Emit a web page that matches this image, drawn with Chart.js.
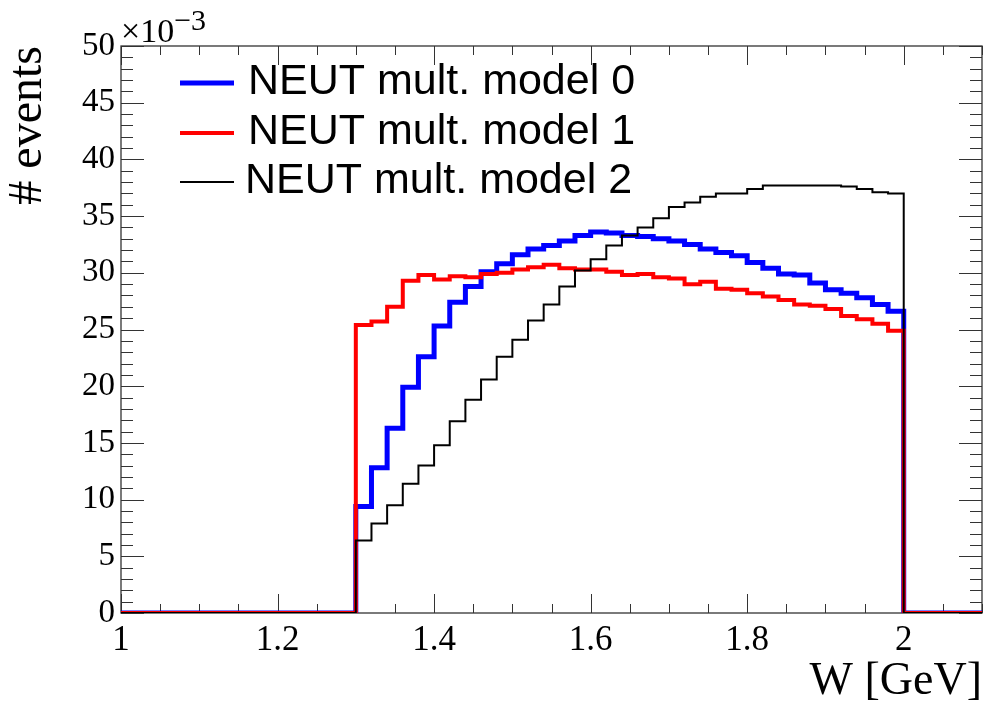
<!DOCTYPE html>
<html>
<head>
<meta charset="utf-8">
<script src="https://cdn.jsdelivr.net/npm/chart.js@4/dist/chart.umd.min.js"></script>
<style>
  body { margin: 0; background: #fff; }
  canvas { display: block; }
</style>
</head>
<body>
<canvas id="w-dist" width="983" height="707"></canvas>
<script>
// W distribution, 55 bins of 0.02 GeV from 1.0 to 2.1, values in units of 1e-3
var binLow = 1.0;
var binWidth = 0.02;
var nBins = 55;

var labels = ['NEUT mult. model 0', 'NEUT mult. model 1', 'NEUT mult. model 2'];

var model0 = [
  0, 0, 0, 0, 0, 0, 0, 0, 0, 0, 0, 0, 0, 0, 0,
  9.4, 12.8, 16.3, 19.9, 22.6, 25.3, 27.4, 28.8, 30.1, 30.8,
  31.6, 32.1, 32.4, 32.8, 33.3, 33.6, 33.5, 33.3, 33.2, 33.0,
  32.8, 32.5, 32.1, 31.8, 31.5, 30.9, 30.4, 29.9, 29.8, 29.1,
  28.5, 28.2, 27.8, 27.2, 26.6,
  0, 0, 0, 0, 0
];
var model1 = [
  0, 0, 0, 0, 0, 0, 0, 0, 0, 0, 0, 0, 0, 0, 0,
  25.4, 25.7, 27.0, 29.3, 29.8, 29.4, 29.7, 29.6, 29.9, 30.0,
  30.3, 30.5, 30.7, 30.4, 30.3, 30.3, 30.1, 29.8, 29.9, 29.6,
  29.5, 29.0, 29.2, 28.6, 28.5, 28.2, 27.9, 27.6, 27.2, 27.1,
  26.8, 26.2, 25.9, 25.5, 24.9,
  0, 0, 0, 0, 0
];
var model2 = [
  0, 0, 0, 0, 0, 0, 0, 0, 0, 0, 0, 0, 0, 0, 0,
  6.4, 7.9, 9.5, 11.4, 13.0, 14.8, 16.9, 18.8, 20.6, 22.6,
  24.1, 25.8, 27.2, 28.8, 30.2, 31.2, 32.4, 33.3, 34.0, 34.8,
  35.8, 36.2, 36.7, 37.0, 37.0, 37.4, 37.7, 37.7, 37.7, 37.7,
  37.7, 37.6, 37.4, 37.1, 37.0,
  0, 0, 0, 0, 0
];

var xTicks = [1, 1.2, 1.4, 1.6, 1.8, 2];
var yTicks = [0, 5, 10, 15, 20, 25, 30, 35, 40, 45, 50];

// stepped line points: one per bin low edge, plus closing point at last edge
function histPoints(vals) {
  var pts = vals.map(function (v, i) {
    return { x: +(binLow + binWidth * i).toFixed(2), y: v };
  });
  pts.push({ x: +(binLow + binWidth * nBins).toFixed(2), y: vals[vals.length - 1] });
  return pts;
}

var serif = 'Liberation Serif';
var sans = 'Liberation Sans';

// ROOT-like frame with ticks on all four sides, pointing inward
var frameTicks = {
  id: 'frameTicks',
  beforeDatasetsDraw: function (chart) {
    var ctx = chart.ctx, a = chart.chartArea;
    var x = chart.scales.x, y = chart.scales.y;
    ctx.save();
    ctx.strokeStyle = '#333';
    ctx.lineWidth = 1;
    ctx.beginPath();
    for (var i = 0; i <= 22; i++) {
      var v = 1 + 0.05 * i;
      var major = Math.abs(v * 5 - Math.round(v * 5)) < 1e-6;
      var len = major ? 19 : 9;
      var px = Math.round(x.getPixelForValue(v)) + 0.5;
      ctx.moveTo(px, a.bottom); ctx.lineTo(px, a.bottom - len);
      ctx.moveTo(px, a.top); ctx.lineTo(px, a.top + len);
    }
    for (var j = 0; j <= 50; j++) {
      var l = j % 5 === 0 ? 23 : 12;
      var py = Math.round(y.getPixelForValue(j)) + 0.5;
      ctx.moveTo(a.left, py); ctx.lineTo(a.left + l, py);
      ctx.moveTo(a.right, py); ctx.lineTo(a.right - l, py);
    }
    ctx.stroke();
    ctx.lineWidth = 1.3;
    ctx.strokeRect(a.left, a.top, a.right - a.left, a.bottom - a.top);
    ctx.restore();
  },
  afterDraw: function (chart) {
    var ctx = chart.ctx, a = chart.chartArea;
    ctx.save();
    ctx.fillStyle = '#000';
    ctx.textBaseline = 'alphabetic';
    ctx.font = '34px "' + serif + '"';
    ctx.fillText('\u00d710', a.left, a.top - 4);
    var w = ctx.measureText('\u00d710').width;
    ctx.font = '30px "' + serif + '"';
    ctx.fillText('\u22123', a.left + w, a.top - 16);

    // legend
    var rows = [
      { y: 83, lx: 248 },
      { y: 133, lx: 248 },
      { y: 182, lx: 245 }
    ];
    ctx.font = '43px "' + sans + '"';
    ctx.textBaseline = 'middle';
    chart.data.datasets.forEach(function (ds, k) {
      var r = rows[k];
      ctx.strokeStyle = ds.borderColor;
      ctx.lineWidth = ds.borderWidth;
      ctx.beginPath();
      ctx.moveTo(180, r.y);
      ctx.lineTo(234, r.y);
      ctx.stroke();
      ctx.fillStyle = '#000';
      ctx.fillText(ds.label, r.lx, r.y - 1);
    });
    ctx.restore();
  }
};

var ctx = document.getElementById('w-dist');
var chart = new Chart(ctx, {
  type: 'line',
  data: {
    datasets: [{
      label: labels[0],
      data: histPoints(model0),
      borderColor: '#0000ff',
      borderWidth: 5,
      stepped: true,
      pointRadius: 0,
      fill: false,
      order: 3
    }, {
      label: labels[1],
      data: histPoints(model1),
      borderColor: '#ff0000',
      borderWidth: 4,
      stepped: true,
      pointRadius: 0,
      fill: false,
      order: 2
    }, {
      label: labels[2],
      data: histPoints(model2),
      borderColor: '#000000',
      borderWidth: 2,
      stepped: true,
      pointRadius: 0,
      fill: false,
      order: 1
    }]
  },
  options: {
    responsive: false,
    animation: false,
    layout: { padding: { top: 46, right: 1, left: 0, bottom: 0 } },
    plugins: { legend: { display: false }, tooltip: { enabled: false } },
    scales: {
      x: {
        type: 'linear',
        min: 1,
        max: 2.1,
        grid: { display: false, drawTicks: false },
        border: { display: false },
        afterBuildTicks: function (s) { s.ticks = xTicks.map(function (v) { return { value: v }; }); },
        afterFit: function (s) { s.height = 94; },
        ticks: {
          autoSkip: false,
          maxRotation: 0,
          padding: 7,
          color: '#000',
          font: { family: serif, size: 35 },
          callback: function (v) { return String(v); }
        },
        title: {
          display: true,
          text: 'W [GeV]',
          align: 'end',
          color: '#000',
          font: { family: serif, size: 46, lineHeight: 1.1 },
          padding: 0
        }
      },
      y: {
        min: 0,
        max: 50,
        grid: { display: false, drawTicks: false },
        border: { display: false },
        afterBuildTicks: function (s) { s.ticks = yTicks.map(function (v) { return { value: v }; }); },
        afterFit: function (s) { s.width = 121; },
        ticks: {
          autoSkip: false,
          padding: 6,
          color: '#000',
          font: { family: serif, size: 33 }
        },
        title: {
          display: true,
          text: '# events',
          align: 'end',
          color: '#000',
          font: { family: serif, size: 48, lineHeight: 1.2 },
          padding: 0
        }
      }
    }
  },
  plugins: [frameTicks]
});
</script>
</body>
</html>
